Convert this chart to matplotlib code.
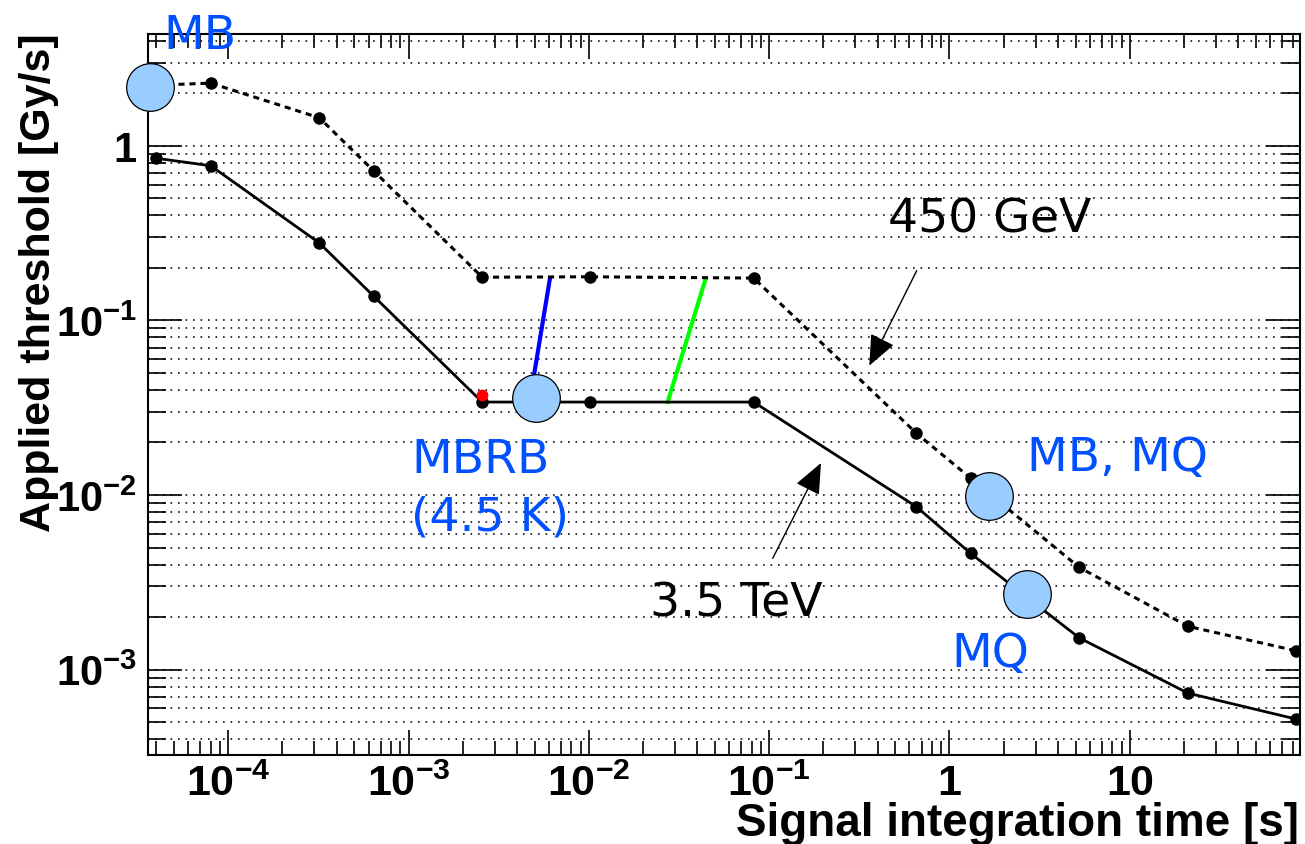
import matplotlib
matplotlib.use('Agg')
import matplotlib.pyplot as plt
from matplotlib.ticker import FixedLocator, LogLocator, NullFormatter

plt.rcParams['mathtext.fontset'] = 'custom'
plt.rcParams['mathtext.rm'] = 'Liberation Sans:bold'
plt.rcParams['mathtext.it'] = 'Liberation Sans:bold'
plt.rcParams['mathtext.bf'] = 'Liberation Sans:bold'

# integration times of the running sums [s]
t_rs = [4.0e-5, 8.0e-5, 3.2e-4, 6.4e-4, 2.56e-3, 1.02e-2, 8.2e-2, 0.655, 1.31, 5.24, 21.0, 84.0]
# applied thresholds [Gy/s]
thr_450gev = [2.23, 2.29, 1.45, 0.72, 0.177, 0.178, 0.175, 0.0226, 0.0125, 3.85e-3, 1.77e-3, 1.28e-3]
thr_35tev = [0.85, 0.77, 0.278, 0.138, 0.0341, 0.0341, 0.0341, 8.57e-3, 4.63e-3, 1.52e-3, 7.33e-4, 5.2e-4]

# red marker on the 3.5 TeV curve
red_t = [2.56e-3]
red_thr = [0.0376]

# coloured connecting segments
blue_t = [4.69e-3, 6.08e-3]
blue_thr = [0.0341, 0.1735]
green_t = [0.02735, 0.04445]
green_thr = [0.0341, 0.1735]

# magnet markers
mag_t = [3.68e-5, 5.09e-3, 1.66, 2.70]
mag_thr = [2.18, 0.0361, 9.9e-3, 2.7e-3]

xtick_vals = [1e-4, 1e-3, 1e-2, 1e-1, 1, 10]
xtick_labels = ['$10^{-4}$', '$10^{-3}$', '$10^{-2}$', '$10^{-1}$', '1', '10']
ytick_vals = [1e-3, 1e-2, 1e-1, 1]
ytick_labels = ['$10^{-3}$', '$10^{-2}$', '$10^{-1}$', '1']

fig = plt.figure(figsize=(13.05, 8.45), dpi=100)
ax = fig.add_axes([0.1134, 0.1053, 0.8828, 0.8533])
ax.set_xscale('log')
ax.set_yscale('log')
ax.set_xlim(3.59e-5, 87.9)
ax.set_ylim(3.24e-4, 4.38)

ax.plot(t_rs, thr_450gev, color='black', lw=2.2, ls=(0, (2.0, 1.6)),
        marker='o', ms=8, zorder=3)
ax.plot(t_rs, thr_35tev, color='black', lw=2.0, marker='o', ms=8, zorder=3)
ax.plot(red_t, red_thr, 'o', color='red', ms=7.5, zorder=4)
ax.plot(blue_t, blue_thr, color='#0000ff', lw=3, zorder=2)
ax.plot(green_t, green_thr, color='#00ff00', lw=3, zorder=2)
ax.plot(mag_t, mag_thr, 'o', ms=34.3, mfc='#99ccff', mec='black', mew=0.9,
        zorder=5, clip_on=False)

blue_txt = '#0050ff'
fs_lab = 34
ax.text(4.35e-5, 3.645, 'MB', color=blue_txt, fontsize=fs_lab, va='baseline', zorder=6)
ax.text(1.031e-3, 0.01349, 'MBRB', color=blue_txt, fontsize=fs_lab, va='baseline')
ax.text(1.031e-3, 6.38e-3, '(4.5 K)', color=blue_txt, fontsize=fs_lab, va='baseline')
ax.text(2.69, 0.01396, 'MB, MQ', color=blue_txt, fontsize=fs_lab, va='baseline')
ax.text(1.028, 1.051e-3, 'MQ', color=blue_txt, fontsize=fs_lab, va='baseline')
ax.text(0.456, 0.3214, '450 GeV', color='black', fontsize=fs_lab, va='baseline')
ax.text(0.02183, 2.033e-3, '3.5 TeV', color='black', fontsize=fs_lab, va='baseline')

arrow = dict(arrowstyle='-|>,head_length=0.4,head_width=0.17', mutation_scale=48,
             lw=1.0, color='black', shrinkA=0, shrinkB=0)
ax.annotate('', xy=(0.359, 0.0551), xytext=(0.658, 0.193), arrowprops=arrow)
ax.annotate('', xy=(0.1938, 0.01526), xytext=(0.1046, 4.34e-3), arrowprops=arrow)

# axes, ticks, grid
ax.xaxis.set_major_locator(FixedLocator(xtick_vals))
ax.xaxis.set_minor_locator(LogLocator(base=10, subs=range(2, 10), numticks=30))
ax.xaxis.set_minor_formatter(NullFormatter())
ax.set_xticklabels(xtick_labels, fontfamily='Liberation Sans', fontweight='bold', fontsize=31)
ax.yaxis.set_major_locator(FixedLocator(ytick_vals))
ax.yaxis.set_minor_locator(LogLocator(base=10, subs=range(2, 10), numticks=30))
ax.yaxis.set_minor_formatter(NullFormatter())
ax.set_yticklabels(ytick_labels, fontfamily='Liberation Sans', fontweight='bold', fontsize=30)

ax.tick_params(which='both', direction='in', top=True, right=True, width=1.2)
ax.tick_params(axis='x', which='major', length=18, pad=6)
ax.tick_params(axis='x', which='minor', length=10)
ax.tick_params(axis='y', which='major', length=24.5, pad=8)
ax.tick_params(axis='y', which='minor', length=13)
for sp in ax.spines.values():
    sp.set_linewidth(1.5)

ax.yaxis.grid(True, which='both', ls=(0, (1, 3.5)), lw=1.2, color='#111111')
ax.set_axisbelow(True)

fig.text(0.9954, 0.0107, 'Signal integration time [s]', ha='right', va='baseline',
         fontfamily='Liberation Sans', fontweight='bold', fontsize=33)
fig.text(0.0299, 0.961, 'Applied threshold [Gy/s]', ha='center', va='top', rotation=90,
         fontfamily='Liberation Sans', fontweight='bold', fontsize=31)

fig.savefig('out.png', dpi=100)
